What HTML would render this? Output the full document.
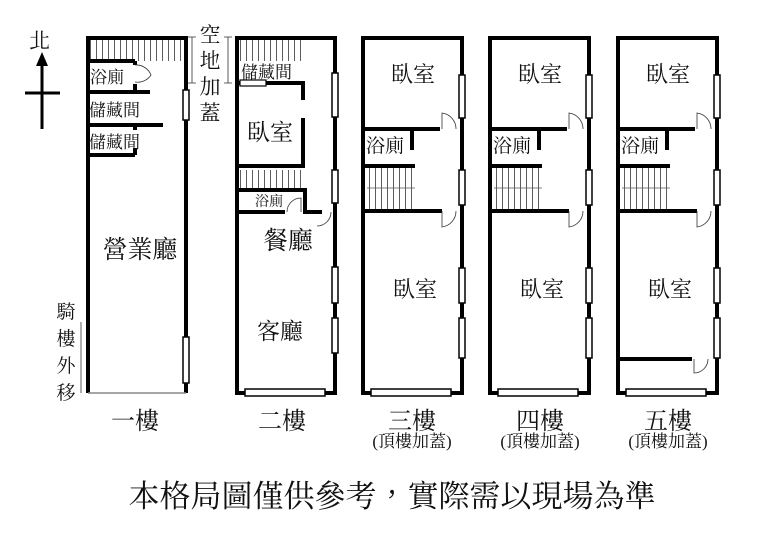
<!DOCTYPE html>
<html><head><meta charset="utf-8"><style>
html,body{margin:0;padding:0;background:#fff;}
svg{display:block;}
text{font-family:"Liberation Serif","Noto Serif CJK TC","Noto Serif CJK SC",serif;fill:#111;}
</style></head><body>
<svg width="783" height="534" viewBox="0 0 783 534" xmlns="http://www.w3.org/2000/svg">
<defs>
<pattern id="st" width="6" height="10" patternUnits="userSpaceOnUse"><line x1="0.5" y1="0" x2="0.5" y2="10" stroke="#333" stroke-width="0.8"/></pattern>
<g id="upper">
 <rect x="0" y="38" width="99" height="355" fill="none" stroke="#000" stroke-width="4"/>
 <rect x="4" y="168" width="48" height="41" fill="url(#st)"/>
 <line x1="4" y1="188" x2="52" y2="188" stroke="#555" stroke-width="0.8"/>
 <path d="M0 129 H77 M49 129 V150 M0 166 H52 M0 211 H79" stroke="#000" stroke-width="4" fill="none"/>
 <path d="M93 129 A16 16 0 0 0 79 113 V129" stroke="#333" fill="none" stroke-width="0.8"/>
 <path d="M93 211 A16 16 0 0 1 79 227 V211" stroke="#333" fill="none" stroke-width="0.8"/>
 <rect x="96" y="75" width="6" height="43" fill="#fff" stroke="#000" stroke-width="1.5"/>
 <rect x="96" y="170" width="6" height="35" fill="#fff" stroke="#000" stroke-width="1.5"/>
 <rect x="96" y="268" width="6" height="35" fill="#fff" stroke="#000" stroke-width="1.5"/>
 <rect x="96" y="318" width="6" height="40" fill="#fff" stroke="#000" stroke-width="1.5"/>
 <rect x="8" y="389" width="80" height="7" fill="#fff" stroke="#000" stroke-width="1.5"/>
 <text x="50" y="82" font-size="22" text-anchor="middle">臥室</text>
 <text x="3" y="152" font-size="19">浴廁</text>
 <text x="52" y="297" font-size="22" text-anchor="middle">臥室</text>
</g>
</defs>

<text x="29" y="48" font-size="21">北</text>
<line x1="42" y1="62" x2="42" y2="129" stroke="#000" stroke-width="3"/>
<polygon points="42,52 36,66 48,66" fill="#000"/>
<line x1="25" y1="93" x2="60" y2="93" stroke="#000" stroke-width="3"/>

<rect x="90" y="40" width="94" height="21" fill="url(#st)"/>
<path d="M88 393 V38 H186 V393" stroke="#000" stroke-width="4" fill="none"/>
<line x1="88" y1="393" x2="186" y2="393" stroke="#888" stroke-width="1.5"/>
<path d="M88 61 H135 M135 84 V92 M88 92 H150 M88 125 H163 M135 125 V130 M88 155 H135 M135 148 V155 M135 61 V65" stroke="#000" stroke-width="4" fill="none"/>
<path d="M135 65 A16 16 0 0 1 151 75 A16 16 0 0 1 135 82" stroke="#333" fill="none" stroke-width="0.8"/>
<rect x="183" y="90" width="6" height="30" fill="#fff" stroke="#000" stroke-width="1.5"/>
<rect x="183" y="337" width="6" height="46" fill="#fff" stroke="#000" stroke-width="1.5"/>
<text x="90" y="83" font-size="17">浴廁</text>
<text x="89" y="116" font-size="17">儲藏間</text>
<text x="89" y="148" font-size="17">儲藏間</text>
<text x="140" y="258" font-size="25" text-anchor="middle">營業廳</text>
<path d="M192 37 V83 M228 37 V83 M188 37 H196 M188 83 H196 M224 37 H232 M224 83 H232" stroke="#333" stroke-width="0.8"/>
<text font-size="21" text-anchor="middle"><tspan x="210" y="42">空</tspan><tspan x="210" y="68">地</tspan><tspan x="210" y="94">加</tspan><tspan x="210" y="120">蓋</tspan></text>
<text font-size="19" text-anchor="middle"><tspan x="66" y="318">騎</tspan><tspan x="66" y="345">樓</tspan><tspan x="66" y="372">外</tspan><tspan x="66" y="399">移</tspan></text>
<line x1="81" y1="322" x2="81" y2="393" stroke="#333" stroke-width="0.8"/>
<text x="135" y="429" font-size="24" text-anchor="middle">一樓</text>

<rect x="240" y="40" width="65" height="21" fill="url(#st)"/>
<rect x="240" y="170" width="63" height="18" fill="url(#st)"/>
<rect x="237" y="38" width="98" height="355" fill="none" stroke="#000" stroke-width="4"/>
<path d="M237 83 H303 V100 M303 118 V166 H237 M237 190 H305 V212 H322 M237 212 H285" stroke="#000" stroke-width="4" fill="none"/>
<rect x="240" y="80" width="26" height="6" fill="#fff" stroke="#000" stroke-width="1.2"/>
<path d="M287 212 A14 14 0 0 1 301 198 V212" stroke="#333" fill="none" stroke-width="0.8"/>
<path d="M331 212 A14 14 0 0 1 317 226" stroke="#333" fill="none" stroke-width="0.8"/>
<rect x="332" y="73" width="6" height="44" fill="#fff" stroke="#000" stroke-width="1.5"/>
<rect x="332" y="170" width="6" height="33" fill="#fff" stroke="#000" stroke-width="1.5"/>
<rect x="332" y="267" width="6" height="36" fill="#fff" stroke="#000" stroke-width="1.5"/>
<rect x="332" y="318" width="6" height="35" fill="#fff" stroke="#000" stroke-width="1.5"/>
<rect x="245" y="389" width="80" height="7" fill="#fff" stroke="#000" stroke-width="1.5"/>
<text x="241" y="78" font-size="17">儲藏間</text>
<text x="270" y="140" font-size="23" text-anchor="middle">臥室</text>
<text x="255" y="206" font-size="14">浴廁</text>
<text x="288" y="249" font-size="25" text-anchor="middle">餐廳</text>
<text x="280" y="339" font-size="23" text-anchor="middle">客廳</text>
<text x="282" y="429" font-size="24" text-anchor="middle">二樓</text>

<use href="#upper" transform="translate(363,0)"/>
<use href="#upper" transform="translate(490,0)"/>
<use href="#upper" transform="translate(618,0)"/>
<path d="M618 359 H692" stroke="#000" stroke-width="4"/>
<path d="M708 359 A14 14 0 0 1 694 373 V359" stroke="#333" fill="none" stroke-width="0.8"/>
<text x="412" y="429" font-size="24" text-anchor="middle">三樓</text>
<text x="412" y="447" font-size="17" text-anchor="middle">(頂樓加蓋)</text>
<text x="540" y="429" font-size="24" text-anchor="middle">四樓</text>
<text x="540" y="447" font-size="17" text-anchor="middle">(頂樓加蓋)</text>
<text x="668" y="429" font-size="24" text-anchor="middle">五樓</text>
<text x="668" y="447" font-size="17" text-anchor="middle">(頂樓加蓋)</text>

<text x="392" y="507" font-size="31" text-anchor="middle">本格局圖僅供參考，實際需以現場為準</text>
</svg>
</body></html>
